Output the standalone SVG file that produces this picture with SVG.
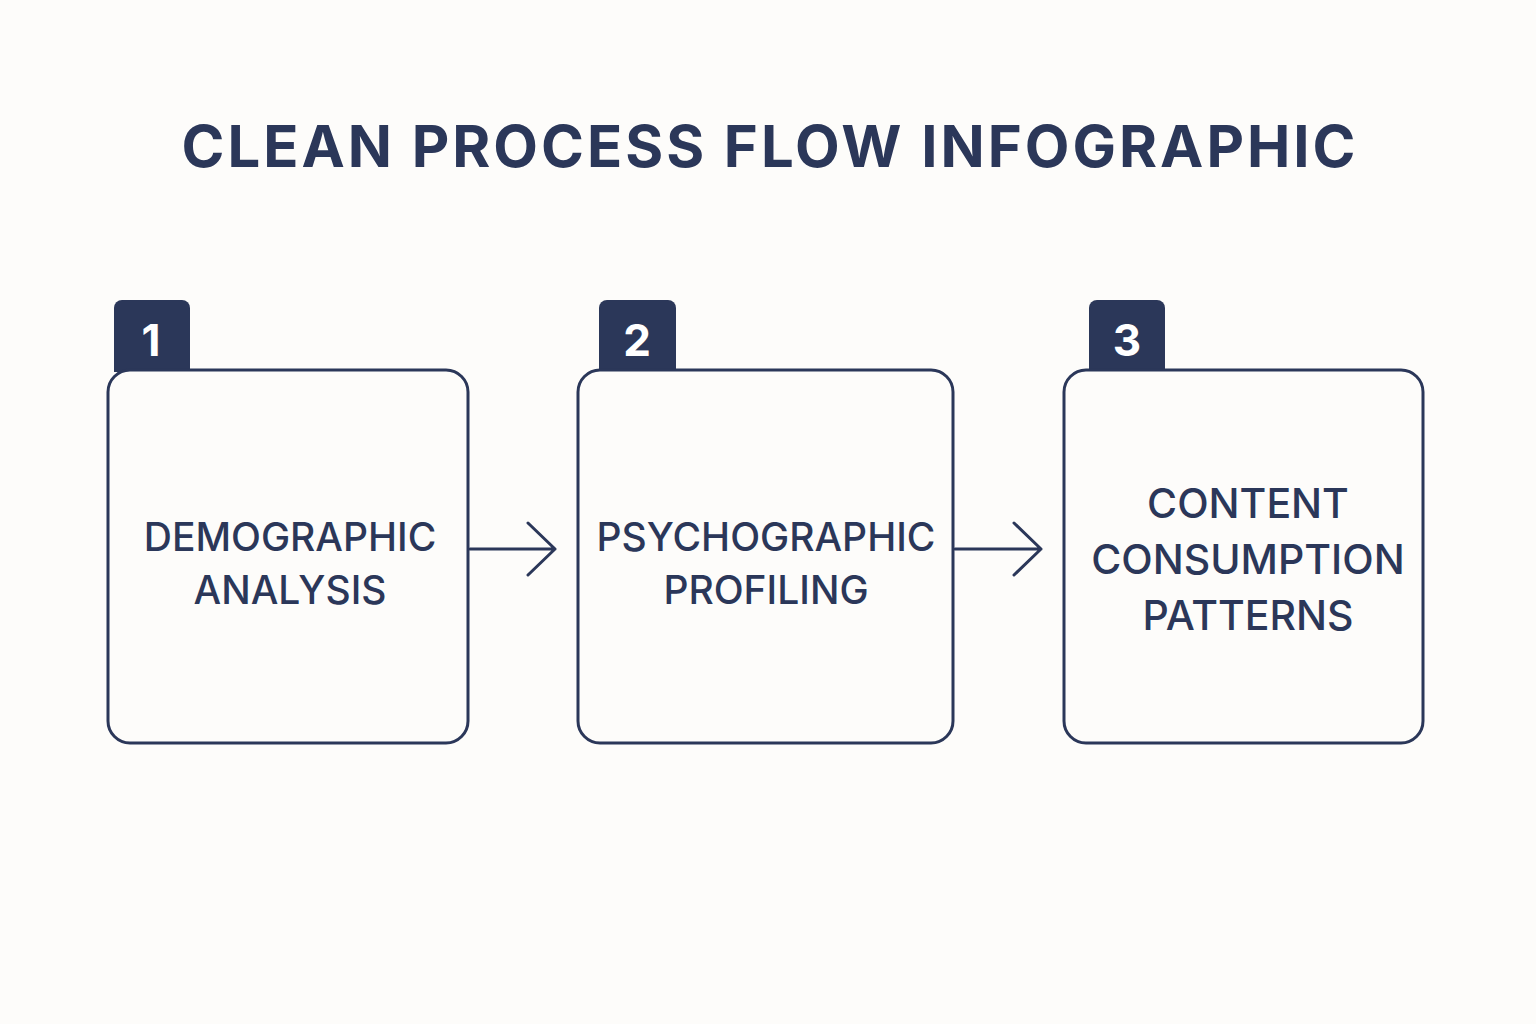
<svg xmlns="http://www.w3.org/2000/svg" width="1536" height="1024" viewBox="0 0 1536 1024">
<style>
.box{fill:#fdfcfa;stroke:#2b3759;stroke-width:3}
.tab{fill:#2b3759}
.num{font-family:Inter,"Liberation Sans",sans-serif;font-weight:700;font-size:44px;fill:#fff;text-anchor:middle}
.lbl{font-family:Inter,"Liberation Sans",sans-serif;font-weight:500;font-size:39px;fill:#2b3759;text-anchor:middle}
.con{fill:none;stroke:#2b3759;stroke-width:3;stroke-linecap:round;stroke-linejoin:round}
</style>
<rect width="1536" height="1024" fill="#fdfcfa"/>
<text x="770" y="167" style="font-family:Inter,'Liberation Sans',sans-serif;font-weight:700;font-size:58px;fill:#2b3759;text-anchor:middle;letter-spacing:3px">CLEAN PROCESS FLOW INFOGRAPHIC</text>
<g id="node1">
<path class="tab" d="M114 372V308a8 8 0 0 1 8-8h60a8 8 0 0 1 8 8V372Z"/>
<text class="num" x="151" y="356">1</text>
<rect class="box" x="108" y="370" width="360" height="373" rx="22"/>
<text class="lbl" x="290" y="551">DEMOGRAPHIC</text>
<text class="lbl" x="290" y="604">ANALYSIS</text>
</g>
<g id="node2">
<path class="tab" d="M599 372V308a8 8 0 0 1 8-8h61a8 8 0 0 1 8 8V372Z"/>
<text class="num" x="637" y="356">2</text>
<rect class="box" x="578" y="370" width="375" height="373" rx="22"/>
<text class="lbl" x="766" y="551">PSYCHOGRAPHIC</text>
<text class="lbl" x="766" y="604">PROFILING</text>
</g>
<g id="node3">
<path class="tab" d="M1089 372V308a8 8 0 0 1 8-8h60a8 8 0 0 1 8 8V372Z"/>
<text class="num" x="1127" y="356">3</text>
<rect class="box" x="1064" y="370" width="359" height="373" rx="22"/>
<text class="lbl" x="1248" y="518" style="font-size:41px">CONTENT</text>
<text class="lbl" x="1248" y="574" style="font-size:41px">CONSUMPTION</text>
<text class="lbl" x="1248" y="630" style="font-size:41px">PATTERNS</text>
</g>
<g id="connectors">
<path class="con" d="M470 549H555M528 523L555 549L528 575"/>
<path class="con" d="M955 549H1041M1014 523L1041 549L1014 575"/>
</g>
</svg>
